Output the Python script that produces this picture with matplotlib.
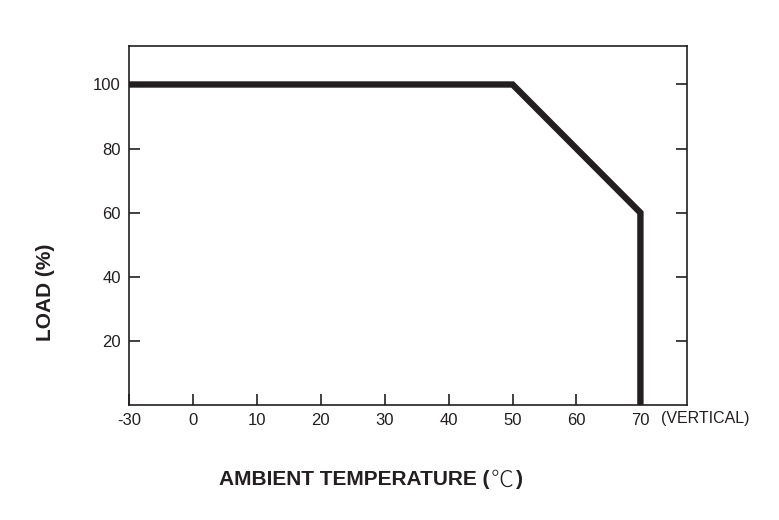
import matplotlib
matplotlib.use("Agg")
from matplotlib import pyplot as plt
import numpy as np

# derating curve: ambient temperature (C) vs load (%)
temps = [-30, 50, 70, 70]
loads = [100, 100, 60, 0]
x_ticks = [-30, 0, 10, 20, 30, 40, 50, 60, 70]
y_ticks = [20, 40, 60, 80, 100]

LINE = "#231f20"
FONT = ["Liberation Sans Narrow", "Liberation Sans", "DejaVu Sans"]


def fwd(x):
    # the axis is compressed below zero: -30..0 takes one 10-degree step
    x = np.asarray(x, dtype=float)
    return np.where(x < 0, x / 3.0, x)


def inv(x):
    x = np.asarray(x, dtype=float)
    return np.where(x < 0, x * 3.0, x)


fig = plt.figure(figsize=(7.79, 5.20), dpi=100)
ax = fig.add_axes([0.1656, 0.221, 0.7164, 0.6905])
ax.set_xscale("function", functions=(fwd, inv))

ax.plot(temps, loads, color=LINE, linewidth=4.6, solid_joinstyle="miter",
        solid_capstyle="butt")

ax.set_xlim(-30, 77.3)
ax.set_ylim(0, 112)
ax.set_xticks(x_ticks)
ax.set_xticklabels([str(t) for t in x_ticks])
ax.set_yticks(y_ticks)
ax.set_yticklabels([str(v) for v in y_ticks])
ax.xaxis.set_minor_locator(matplotlib.ticker.NullLocator())
ax.tick_params(axis="both", direction="in", length=8, width=1.2,
               color=LINE, labelsize=12, pad=6)
ax.tick_params(axis="y", right=True)
for lab in ax.get_xticklabels() + ax.get_yticklabels():
    lab.set_family(FONT)
    lab.set_color(LINE)
for sp in ax.spines.values():
    sp.set_linewidth(1.2)
    sp.set_color(LINE)

fig.text(0.848, 0.196, "(VERTICAL)", fontsize=11.5, family=FONT,
         color=LINE, ha="left", va="center")

# x label in three pieces: the degree sign is a thin full-width glyph
t1 = fig.text(219 / 779, 0.077, "AMBIENT TEMPERATURE (", fontsize=15,
              fontweight="bold", family=FONT, color=LINE,
              ha="left", va="center")
renderer = fig.canvas.get_renderer()
x1 = t1.get_window_extent(renderer).x1 / fig.bbox.width
t2 = fig.text(x1 + 0.001, 0.077, "℃", fontsize=16.5, fontweight="light",
              family=["Noto Sans CJK JP", "DejaVu Sans"], color=LINE,
              ha="left", va="center")
x2 = t2.get_window_extent(renderer).x1 / fig.bbox.width
fig.text(x2 + 0.003, 0.077, ")", fontsize=15, fontweight="bold",
         family=FONT, color=LINE, ha="left", va="center")

fig.text(0.059, 0.438, "LOAD (%)", fontsize=15, fontweight="bold",
         family=FONT, rotation=90, color=LINE, ha="center", va="center")

fig.savefig("out.png", dpi=100)
